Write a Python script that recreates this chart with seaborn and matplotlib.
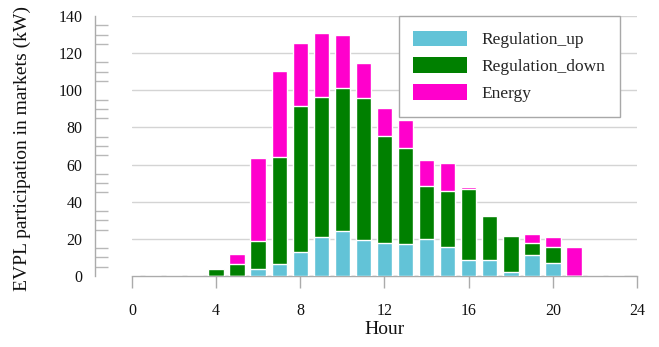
import matplotlib
matplotlib.use("Agg")
import matplotlib.pyplot as plt
from matplotlib.patches import Patch
from matplotlib.ticker import MultipleLocator
import seaborn as sns
import pandas as pd
import numpy as np

hours = list(range(24))
reg_up = [0, 0, 0, 0, 0, 0, 4, 6.5, 12.7, 21, 24, 19.4, 17.6, 17.2, 19.9, 15.4, 8.6, 8.6, 2.2, 11.1, 6.8, 0, 0, 0]
reg_down = [0, 0, 0, 0, 4, 6.5, 15, 57.8, 78.8, 75.4, 77.4, 76.3, 58, 51.5, 28.6, 30.5, 38.2, 23.7, 19.3, 6.9, 9, 0, 0, 0]
energy = [0, 0, 0, 0, 0, 5.2, 44.7, 46.3, 34.1, 34.6, 28.6, 19.2, 14.7, 15.3, 14, 15.1, 1.3, 0, 0, 4.4, 5.4, 15.8, 0, 0]
series_names = ["Regulation_up", "Regulation_down", "Energy"]
series_colors = ["#62C3D7", "#008000", "#FF00CC"]
x_ticks = [0, 4, 8, 12, 16, 20, 24]
y_ticks = [0, 20, 40, 60, 80, 100, 120, 140]

df = pd.DataFrame({"Hour": hours, "up": reg_up, "down": reg_down, "energy": energy})
df["lvl_up"] = df["up"]
df["lvl_down"] = df["up"] + df["down"]
df["lvl_energy"] = df["up"] + df["down"] + df["energy"]

sns.set_theme(style="white")
plt.rcParams["font.family"] = ["Liberation Serif", "DejaVu Serif"]

fig = plt.figure(figsize=(6.59, 3.47), dpi=100)
ax = fig.add_axes([0.2003, 0.2046, 0.7663, 0.7493])

for col, color in zip(["lvl_energy", "lvl_down", "lvl_up"], series_colors[::-1]):
    sns.barplot(data=df, x="Hour", y=col, native_scale=True, width=0.74,
                color=color, saturation=1, edgecolor="white", linewidth=1.0,
                errorbar=None, ax=ax, zorder=3)

ax.set_xlim(0, 24)
ax.set_ylim(0, 140)
ax.set_xticks(x_ticks)
ax.set_yticks(y_ticks)
ax.yaxis.set_minor_locator(MultipleLocator(5))
ax.grid(axis="y", color="#d4d4d4", linewidth=1.0)
ax.set_axisbelow(True)

grey = "#ababab"
for s in ["top", "right"]:
    ax.spines[s].set_visible(False)
ax.spines["left"].set_position(("outward", 26.6))
ax.spines["left"].set_color(grey)
ax.spines["bottom"].set_color(grey)
ax.spines["left"].set_linewidth(1.0)
ax.spines["bottom"].set_linewidth(1.0)

ax.tick_params(axis="x", which="major", direction="out", length=8.6, width=1.0,
               color=grey, pad=11, labelsize=11.5, labelcolor="#111111", bottom=True)
ax.tick_params(axis="y", which="major", length=0, pad=9, labelsize=11.5, labelcolor="#111111", left=True)
ax.tick_params(axis="y", which="minor", direction="in", length=9.4, width=1.0, color="#b8b8b8", left=True)

ax.set_xlabel("Hour", fontsize=14, labelpad=1.5, color="#111111")
ax.set_ylabel("EVPL participation in markets (kW)", fontsize=14, color="#111111")
ax.yaxis.set_label_coords(-0.2, 0.49)

handles = [Patch(facecolor=c, edgecolor="none", label=n) for n, c in zip(series_names, series_colors)]
leg = ax.legend(handles=handles, loc="upper right", bbox_to_anchor=(0.966, 1.0),
                fontsize=12.5, frameon=True, fancybox=False, framealpha=1,
                edgecolor="#a8a8a8", handlelength=3.1, handleheight=1.0,
                handletextpad=0.8, borderpad=0.85, labelspacing=0.52, borderaxespad=0)
leg.get_frame().set_linewidth(1.0)

fig.savefig("out.png", dpi=100)
